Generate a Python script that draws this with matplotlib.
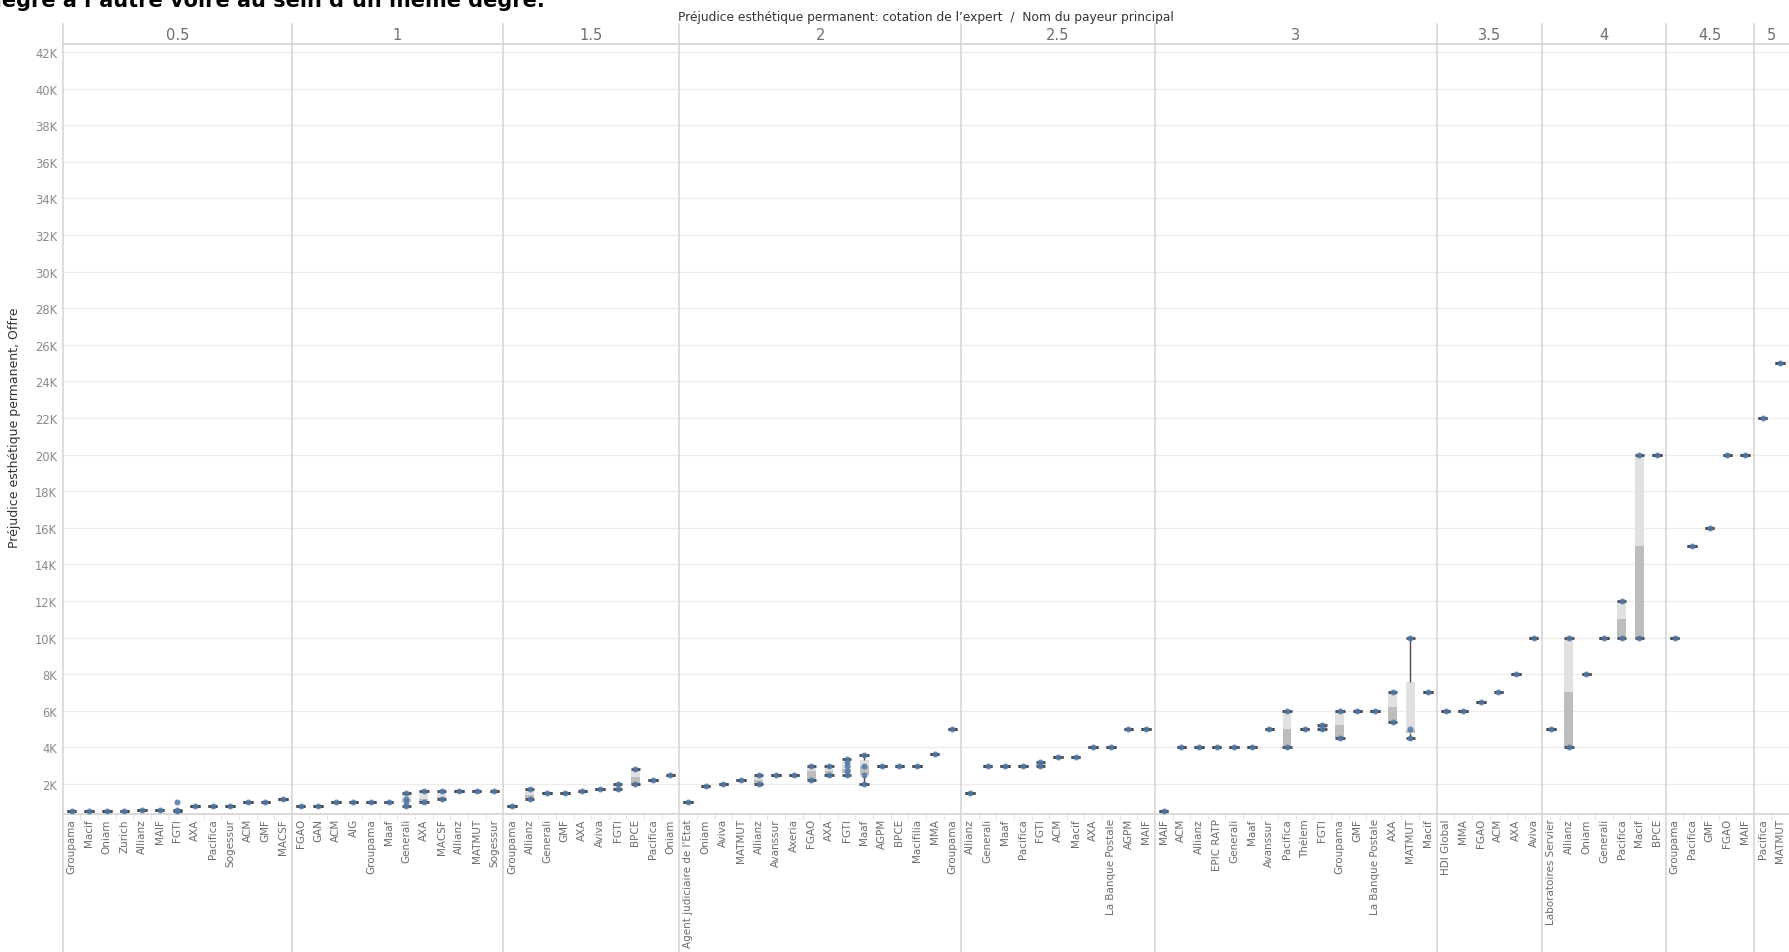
import matplotlib
matplotlib.use("Agg")
import matplotlib.pyplot as plt


##### DATA #####

grades = ['0.5', '1', '1.5', '2', '2.5', '3', '3.5', '4', '4.5', '5']

payers_05 = ['Groupama', 'Macif', 'Oniam', 'Zurich', 'Allianz', 'MAIF', 'FGTI', 'AXA',
             'Pacifica', 'Sogessur', 'ACM', 'GMF', 'MACSF']
offers_05 = [500, 500, 500, 500, 600, 600, 600, 800, 800, 800, 1000, 1000, 1200]

payers_10 = ['FGAO', 'GAN', 'ACM', 'AIG', 'Groupama', 'Maaf', 'Generali', 'AXA', 'MACSF',
             'Allianz', 'MATMUT', 'Sogessur']
offers_10 = [800, 800, 1000, 1000, 1000, 1000, 1200, 1200, 1300, 1600, 1600, 1600]

payers_15 = ['Groupama', 'Allianz', 'Generali', 'GMF', 'AXA', 'Aviva', 'FGTI', 'BPCE',
             'Pacifica', 'Oniam']
offers_15 = [800, 1400, 1500, 1500, 1600, 1700, 1800, 2400, 2200, 2500]

payers_20 = ["Agent judiciaire de l'Etat", 'Oniam', 'Aviva', 'MATMUT', 'Allianz', 'Avanssur',
             'Axeria', 'FGAO', 'AXA', 'FGTI', 'Maaf', 'AGPM', 'BPCE', 'Macifilia', 'MMA',
             'Groupama']
offers_20 = [1000, 1900, 2000, 2200, 2200, 2500, 2500, 2700, 2700, 2800, 3000, 3000, 3000,
             3000, 3650, 5000]

payers_25 = ['Allianz', 'Generali', 'Maaf', 'Pacifica', 'FGTI', 'ACM', 'Macif', 'AXA',
             'La Banque Postale', 'AGPM', 'MAIF']
offers_25 = [1500, 3000, 3000, 3000, 3100, 3500, 3500, 4000, 4000, 5000, 5000]

payers_30 = ['MAIF', 'ACM', 'Allianz', 'EPIC RATP', 'Generali', 'Maaf', 'Avanssur', 'Pacifica',
             'Thélem', 'FGTI', 'Groupama', 'GMF', 'La Banque Postale', 'AXA', 'MATMUT', 'Macif']
offers_30 = [500, 4000, 4000, 4000, 4000, 4000, 5000, 5000, 5000, 5100, 5200, 6000, 6000,
             6200, 4950, 7000]

payers_35 = ['HDI Global', 'MMA', 'FGAO', 'ACM', 'AXA', 'Aviva']
offers_35 = [6000, 6000, 6500, 7000, 8000, 10000]

payers_40 = ['Laboratoires Servier', 'Allianz', 'Oniam', 'Generali', 'Pacifica', 'Macif', 'BPCE']
offers_40 = [5000, 7000, 8000, 10000, 11000, 15000, 20000]

payers_45 = ['Groupama', 'Pacifica', 'GMF', 'FGAO', 'MAIF']
offers_45 = [10000, 15000, 16000, 20000, 20000]

payers_50 = ['Pacifica', 'MATMUT']
offers_50 = [22000, 25000]

payers = [payers_05, payers_10, payers_15, payers_20, payers_25,
          payers_30, payers_35, payers_40, payers_45, payers_50]
offers = [offers_05, offers_10, offers_15, offers_20, offers_25,
          offers_30, offers_35, offers_40, offers_45, offers_50]

# (lower whisker, Q1, Q3, upper whisker, individual offers) for payers with several offers
boxes = {
    ('0.5', 'FGTI'):     (500, 550, 600, 600, [500, 600, 1000]),
    ('1', 'Generali'):   (800, 1000, 1500, 1500, [800, 1000, 1200, 1500]),
    ('1', 'AXA'):        (1000, 1000, 1600, 1600, [1000, 1600]),
    ('1', 'MACSF'):      (1200, 1200, 1600, 1600, [1200, 1600]),
    ('1.5', 'Allianz'):  (1200, 1200, 1700, 1700, [1200, 1700]),
    ('1.5', 'FGTI'):     (1700, 1700, 2000, 2000, [1700, 2000]),
    ('1.5', 'BPCE'):     (2000, 2000, 2800, 2800, [2000, 2800]),
    ('2', 'Allianz'):    (2000, 2000, 2500, 2500, [2000, 2500]),
    ('2', 'FGAO'):       (2200, 2200, 3000, 3000, [2200, 3000]),
    ('2', 'AXA'):        (2500, 2500, 3000, 3000, [2500, 3000]),
    ('2', 'FGTI'):       (2500, 2600, 3200, 3350, [2500, 2700, 3000, 3200, 3350]),
    ('2', 'Maaf'):       (2000, 2500, 3300, 3600, [2000, 2500, 3000, 3600]),
    ('2.5', 'FGTI'):     (3000, 3000, 3200, 3200, [3000, 3200]),
    ('3', 'Pacifica'):   (4000, 4000, 6000, 6000, [4000, 6000]),
    ('3', 'FGTI'):       (5000, 5000, 5200, 5200, [5000, 5200]),
    ('3', 'Groupama'):   (4500, 4500, 6000, 6000, [4500, 6000]),
    ('3', 'AXA'):        (5400, 5400, 7000, 7000, [5400, 7000]),
    ('3', 'MATMUT'):     (4500, 4800, 7550, 10000, [4500, 5000, 10000]),
    ('4', 'Allianz'):    (4000, 4000, 10000, 10000, [4000, 10000]),
    ('4', 'Pacifica'):   (10000, 10000, 12000, 12000, [10000, 12000]),
    ('4', 'Macif'):      (10000, 10000, 20000, 20000, [10000, 20000]),
}

yticks = list(range(2000, 42001, 2000))


##### FIGURE #####

W, H = 1789, 953
fig = plt.figure(figsize=(W / 100, H / 100), dpi=100)

left_px, top_px, bottom_px = 62.8, 44.5, 815
ax = fig.add_axes([left_px / W, 1 - bottom_px / H, 1 - left_px / W, (bottom_px - top_px) / H])

n_cols = sum(len(p) for p in payers)
ax.set_xlim(0, n_cols)
ax.set_ylim(360, 42460)

narrow = ['Liberation Sans Narrow', 'DejaVu Sans']
grid_c = '#ececec'
line_c = '#d3d3d3'
dark_c = '#4a4a4a'
blue_c = '#4e79a7'

# horizontal grid
for v in yticks:
    ax.axhline(v, color=grid_c, lw=0.8, zorder=0)

ax.set_yticks(yticks)
ax.set_yticklabels([f"{v // 1000}K" for v in yticks], fontsize=8.3, color='#8a8a8a')
ax.tick_params(axis='y', length=0, pad=4)

for s in ['top', 'right', 'left']:
    ax.spines[s].set_visible(False)
ax.spines['bottom'].set_color(line_c)
ax.spines['bottom'].set_linewidth(1.2)

trans = ax.get_xaxis_transform()
y_fig_bottom = -(H - bottom_px) / (bottom_px - top_px)
y_head_top = 1 + (top_px - 25) / (bottom_px - top_px)
y_head_text = 1 + (top_px - 35.4) / (bottom_px - top_px)

##### MARKS #####

xs, labels = [], []
start = 0
for g, names, vals in zip(grades, payers, offers):
    for i, (name, med) in enumerate(zip(names, vals)):
        x = start + i + 0.5
        xs.append(x)
        labels.append(name)
        lo, q1, q3, hi, pts = boxes.get((g, name), (med, med, med, med, [med]))
        if q3 > q1:
            ax.bar(x, med - q1, bottom=q1, width=0.5, color='#bdbdbd', lw=0, zorder=2)
            ax.bar(x, q3 - med, bottom=med, width=0.5, color='#e1e1e1', lw=0, zorder=2)
        if q1 > lo:
            ax.vlines(x, lo, q1, color=dark_c, lw=1, zorder=3)
        if hi > q3:
            ax.vlines(x, q3, hi, color=dark_c, lw=1, zorder=3)
        ax.hlines([lo, hi], x - 0.27, x + 0.27, color=dark_c, lw=2, zorder=3)
        ax.plot([x] * len(pts), pts, 'o', color=blue_c, ms=4.3, mew=0, alpha=0.85, zorder=4)
    # header label of the panel
    ax.text(start + len(names) / 2, y_head_text, g, transform=trans, ha='center', va='center',
            fontsize=10.5, color='#6e6e6e', family=narrow)
    # panel divider
    if start > 0:
        ax.plot([start, start], [y_fig_bottom, y_head_top], transform=trans, color=line_c,
                lw=1.1, clip_on=False, zorder=1)
    start += len(names)

# left border and header bottom line
ax.plot([0, 0], [y_fig_bottom, y_head_top], transform=trans, color=line_c, lw=1.1,
        clip_on=False, zorder=1)
ax.plot([0, n_cols], [1, 1], transform=trans, color=line_c, lw=1.2, clip_on=False)

# column separators below the axis
for c in range(1, n_cols):
    ax.plot([c, c], [0, -0.007], transform=trans, color='#e6e6e6', lw=0.8, clip_on=False)

ax.set_xticks(xs)
ax.set_xticklabels(labels, rotation=90, fontsize=7.5, color='#6b6b6b')
ax.tick_params(axis='x', length=0, pad=3)

##### TEXTS #####

fig.text((left_px + W) / 2 / W, 1 - 18 / H,
         "Préjudice esthétique permanent: cotation de l\u2019expert  /  Nom du payeur principal",
         ha='center', va='center', fontsize=8.8, color='#333333', family=narrow)

fig.text(15 / W, 1 - 428 / H, "Préjudice esthétique permanent, Offre", rotation=90,
         ha='center', va='center', fontsize=9, color='#333333', family=narrow)

# cut-off sentence from the text above the chart
fig.text(545 / W, 1 - 7 / H, "degré à l\u2019autre voire au sein d\u2019un même degré.",
         ha='right', va='baseline', fontsize=15, fontweight='bold', color='black')

fig.savefig('out.png', dpi=100)
